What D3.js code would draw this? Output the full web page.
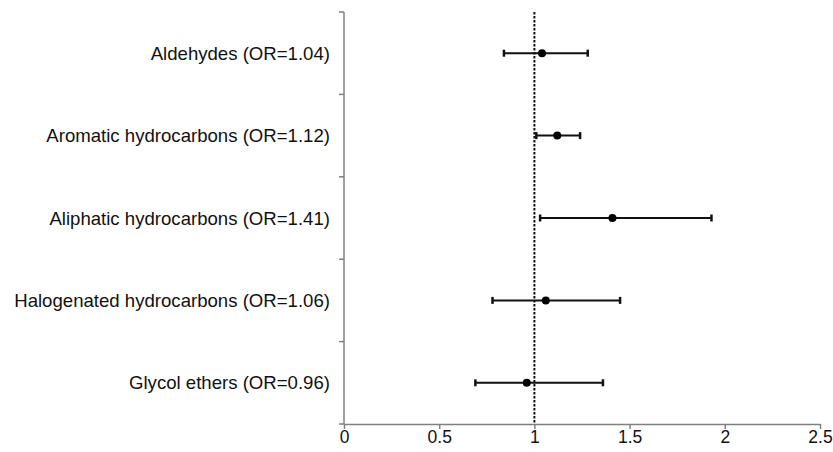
<!DOCTYPE html>
<html><head><meta charset="utf-8">
<script src="https://cdn.jsdelivr.net/npm/d3@7"></script>
<style>body{margin:0;background:#fff}</style>
</head><body>
<svg id="c" width="833" height="452"></svg>
<script>
const categories = ["Aldehydes (OR=1.04)","Aromatic hydrocarbons (OR=1.12)","Aliphatic hydrocarbons (OR=1.41)","Halogenated hydrocarbons (OR=1.06)","Glycol ethers (OR=0.96)"];
const orValues = [1.04, 1.12, 1.41, 1.06, 0.96];
const lowerCI = [0.84, 1.01, 1.03, 0.78, 0.69];
const upperCI = [1.28, 1.24, 1.93, 1.45, 1.36];
const xTicks = [0, 0.5, 1, 1.5, 2, 2.5];
const refValue = 1;

const svg = d3.select("#c");
const m = {left:344, right:13, top:12, bottom:28};
const W = 833, H = 452;
const x = d3.scaleLinear().domain([0,2.5]).range([m.left, W - m.right]);
const y = d3.scaleBand().domain(categories).range([m.top, H - m.bottom]);

const axisColor = "#808080";
const font = "Liberation Sans, Arial, sans-serif";
// x axis
const gx = svg.append("g").attr("transform",`translate(0,${H-m.bottom})`)
  .call(d3.axisBottom(x).tickValues(xTicks).tickFormat(d3.format("")).tickSize(5).tickPadding(1).tickSizeOuter(0));
gx.select(".domain").attr("stroke",axisColor).attr("stroke-width",1.5);
gx.selectAll(".tick line").attr("stroke",axisColor).attr("stroke-width",1.5);
gx.selectAll("text").attr("fill","#111").attr("font-family",font).attr("font-size",17.5).attr("dy","0.76em");

// y axis: ticks at band boundaries
const bounds = categories.map(c => y(c)).concat([y.range()[1]]);
const gy = svg.append("g");
gy.append("line").attr("x1",m.left).attr("x2",m.left).attr("y1",m.top).attr("y2",H-m.bottom)
  .attr("stroke",axisColor).attr("stroke-width",1.5);
gy.selectAll("line.t").data(bounds).join("line").attr("class","t")
  .attr("x1",m.left-5).attr("x2",m.left).attr("y1",d=>d).attr("y2",d=>d)
  .attr("stroke",axisColor).attr("stroke-width",1.5);
gy.selectAll("text").data(categories).join("text")
  .attr("x",330).attr("y",d=>y(d)+y.bandwidth()/2).attr("dy","0.35em")
  .attr("text-anchor","end").attr("fill","#111")
  .attr("font-family",font).attr("font-size",18.6)
  .text(d=>d);

// reference line
svg.append("line").attr("x1",x(refValue)).attr("x2",x(refValue)).attr("y1",m.top).attr("y2",H-m.bottom)
  .attr("stroke","#111").attr("stroke-width",2).attr("stroke-dasharray","2.5,1.5");

// error bars
const rows = categories.map((c,i)=>({c, or:orValues[i], lo:lowerCI[i], hi:upperCI[i]}));
const g = svg.append("g");
g.selectAll("line.bar").data(rows).join("line").attr("class","bar")
  .attr("x1",d=>x(d.lo)).attr("x2",d=>x(d.hi))
  .attr("y1",d=>y(d.c)+y.bandwidth()/2).attr("y2",d=>y(d.c)+y.bandwidth()/2)
  .attr("stroke","#111").attr("stroke-width",2);
["lo","hi"].forEach(k=>{
  g.selectAll("line.cap"+k).data(rows).join("line").attr("class","cap"+k)
    .attr("x1",d=>x(d[k])).attr("x2",d=>x(d[k]))
    .attr("y1",d=>y(d.c)+y.bandwidth()/2-3.5).attr("y2",d=>y(d.c)+y.bandwidth()/2+3.5)
    .attr("stroke","#111").attr("stroke-width",2.5);
});
g.selectAll("circle").data(rows).join("circle")
  .attr("cx",d=>x(d.or)).attr("cy",d=>y(d.c)+y.bandwidth()/2).attr("r",4)
  .attr("fill","#000");
</script>
</body></html>
